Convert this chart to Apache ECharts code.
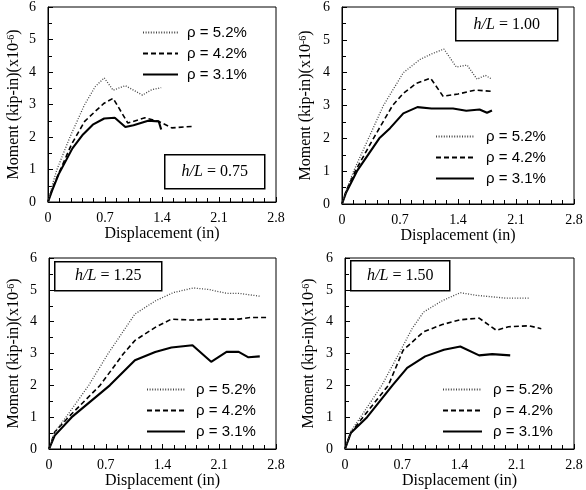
<!DOCTYPE html>
<html><head><meta charset="utf-8">
<script src="https://cdn.jsdelivr.net/npm/echarts@6/dist/echarts.min.js"></script>
<style>html,body{margin:0;padding:0;background:#fff}#c{width:586px;height:490px}</style>
</head><body><div id="c"></div>
<script>
// Series names
const seriesNames = ['ρ = 5.2%', 'ρ = 4.2%', 'ρ = 3.1%'];
const panelLabels = ['0.75', '1.00', '1.25', '1.50'];
const xTickLabels = ['0', '0.7', '1.4', '2.1', '2.8'];
const yTickLabels = ['0', '1', '2', '3', '4', '5', '6'];

// h/L = 0.75
const hl075_rho52 = [[0,0],[0.05,0.5],[0.11,1.0],[0.27,2.0],[0.45,3.0],[0.58,3.55],[0.69,3.82],[0.80,3.44],[0.95,3.58],[1.16,3.29],[1.27,3.45],[1.39,3.52]];
const hl075_rho42 = [[0,0],[0.05,0.4],[0.13,0.87],[0.29,1.78],[0.45,2.48],[0.58,2.79],[0.69,3.04],[0.80,3.19],[0.98,2.43],[1.19,2.59],[1.36,2.48],[1.52,2.28],[1.79,2.33]];
const hl075_rho31 = [[0,0],[0.05,0.35],[0.13,0.85],[0.30,1.65],[0.43,2.08],[0.55,2.38],[0.69,2.57],[0.82,2.59],[0.95,2.31],[1.05,2.36],[1.23,2.50],[1.36,2.48],[1.39,2.23]];
// h/L = 1.00
const hl100_rho52 = [[0,0],[0.05,0.4],[0.14,1.0],[0.32,2.0],[0.50,3.0],[0.74,4.0],[0.94,4.4],[1.08,4.57],[1.23,4.72],[1.38,4.17],[1.51,4.23],[1.63,3.80],[1.73,3.92],[1.81,3.80]];
const hl100_rho42 = [[0,0],[0.05,0.4],[0.16,1.0],[0.38,2.0],[0.61,3.0],[0.74,3.37],[0.90,3.68],[1.07,3.83],[1.22,3.28],[1.40,3.35],[1.61,3.47],[1.81,3.43]];
const hl100_rho31 = [[0,0],[0.05,0.35],[0.18,1.0],[0.45,2.0],[0.58,2.31],[0.74,2.76],[0.91,2.95],[1.08,2.91],[1.34,2.91],[1.50,2.84],[1.66,2.88],[1.75,2.78],[1.81,2.85]];
// h/L = 1.25
const hl125_rho52 = [[0,0],[0.07,0.53],[0.21,1.0],[0.49,2.0],[0.73,3.0],[1.06,4.24],[1.31,4.65],[1.53,4.91],[1.78,5.06],[1.97,5.01],[2.19,4.89],[2.34,4.89],[2.60,4.80]];
const hl125_rho42 = [[0,0],[0.07,0.53],[0.24,1.0],[0.63,2.0],[0.92,3.0],[1.06,3.41],[1.31,3.82],[1.51,4.08],[1.76,4.05],[2.05,4.08],[2.34,4.08],[2.48,4.13],[2.71,4.13]];
const hl125_rho31 = [[0,0],[0.07,0.42],[0.28,1.0],[0.75,2.0],[1.06,2.79],[1.31,3.05],[1.51,3.19],[1.77,3.26],[2.00,2.74],[2.19,3.05],[2.34,3.05],[2.46,2.88],[2.60,2.91]];
// h/L = 1.50
const hl150_rho52 = [[0,0],[0.07,0.55],[0.19,1.0],[0.45,2.0],[0.66,3.0],[0.82,3.78],[0.96,4.30],[1.19,4.66],[1.41,4.91],[1.60,4.83],[1.80,4.78],[1.96,4.74],[2.25,4.74]];
const hl150_rho42 = [[0,0],[0.07,0.5],[0.22,1.0],[0.53,2.0],[0.71,3.1],[0.96,3.68],[1.19,3.91],[1.41,4.06],[1.64,4.11],[1.85,3.73],[2.00,3.84],[2.25,3.87],[2.40,3.78]];
const hl150_rho31 = [[0,0],[0.07,0.5],[0.27,1.0],[0.58,2.0],[0.76,2.55],[0.98,2.91],[1.21,3.12],[1.41,3.22],[1.64,2.94],[1.80,2.98],[2.02,2.94]];

const panelData = [
  [hl075_rho52, hl075_rho42, hl075_rho31],
  [hl100_rho52, hl100_rho42, hl100_rho31],
  [hl125_rho52, hl125_rho42, hl125_rho31],
  [hl150_rho52, hl150_rho42, hl150_rho31]
];

const SERIF = '"Liberation Serif","Times New Roman",serif';
const SANS = '"Liberation Sans",Arial,sans-serif';

const grids = [
  {left: 48, top: 4, width: 228, height: 198},
  {left: 342, top: 3, width: 232, height: 201},
  {left: 49, top: 258, width: 227, height: 194},
  {left: 345, top: 258, width: 229, height: 195}
];
const yNameGaps = [26, 28, 27, 28];
const legendPos = [
  {left: 142, top: 25, w: 35, pad: 4},
  {left: 435, top: 129, w: 38, pad: 7},
  {left: 146, top: 382, w: 38, pad: 6},
  {left: 442, top: 382, w: 39, pad: 6}
];
const boxPos = [
  {x: 164, y: 154, w: 100, h: 34},
  {x: 455, y: 8, w: 102, h: 32},
  {x: 54, y: 261, w: 107, h: 29},
  {x: 350, y: 260, w: 99, h: 30}
];
const lineStyles = [
  {color: '#444', width: 1.3, type: [1, 1.6]},
  {color: '#000', width: 1.6, type: [5, 3]},
  {color: '#000', width: 2.1, type: 'solid'}
];

const option = {
  animation: false,
  backgroundColor: '#fff',
  grid: grids.map(g => Object.assign({show: true, borderColor: '#000', borderWidth: 1, backgroundColor: 'transparent'}, g)),
  xAxis: grids.map((g, i) => ({
    gridIndex: i, type: 'value', min: 0, max: 2.8, interval: 0.7,
    name: 'Displacement (in)', nameLocation: 'middle', nameGap: 24,
    nameTextStyle: {fontFamily: SERIF, fontSize: 16, color: '#000'},
    axisLine: {lineStyle: {color: '#000', width: 1}},
    axisTick: {inside: true, length: 5, lineStyle: {color: '#000'}},
    minorTick: {show: true, splitNumber: 5, length: 4, lineStyle: {color: '#000'}},
    splitLine: {show: false},
    axisLabel: {fontFamily: SERIF, fontSize: 14, color: '#000', margin: 9,
      formatter: v => xTickLabels[Math.round(v / 0.7)]}
  })),
  yAxis: grids.map((g, i) => ({
    gridIndex: i, type: 'value', min: 0, max: 6, interval: 1,
    name: 'Moment (kip-in)(x10{s|-6})', nameLocation: 'middle', nameGap: yNameGaps[i],
    nameTextStyle: {fontFamily: SERIF, fontSize: 16, color: '#000', lineHeight: 16,
      rich: {s: {fontFamily: SERIF, fontSize: 10, color: '#000', verticalAlign: 'top', lineHeight: 16}}},
    axisLine: {lineStyle: {color: '#000', width: 1}},
    axisTick: {inside: true, length: 5, lineStyle: {color: '#000'}},
    minorTick: {show: true, splitNumber: 2, length: 4, lineStyle: {color: '#000'}},
    splitLine: {show: false},
    axisLabel: {fontFamily: SERIF, fontSize: 14, color: '#000', margin: 12,
      formatter: v => yTickLabels[Math.round(v)]}
  })),
  legend: legendPos.map(p => ({
    left: p.left, top: p.top, orient: 'vertical', padding: 0,
    itemWidth: p.w, itemHeight: 14, itemGap: 6, selectedMode: false,
    data: seriesNames,
    itemStyle: {opacity: 0},
    textStyle: {fontFamily: SANS, fontSize: 15, color: '#000', lineHeight: 14, padding: [0, 0, 0, p.pad]}
  })),
  series: [],
  graphic: []
};

panelData.forEach((arrs, i) => {
  arrs.forEach((d, k) => {
    option.series.push({
      type: 'line', name: seriesNames[k], xAxisIndex: i, yAxisIndex: i,
      data: d, symbol: 'none', showSymbol: false, smooth: false,
      lineStyle: lineStyles[k], itemStyle: {color: lineStyles[k].color},
      z: 3 - k
    });
  });
  const b = boxPos[i];
  option.graphic.push({
    type: 'group', left: b.x, top: b.y,
    children: [
      {type: 'rect', shape: {x: 0, y: 0, width: b.w, height: b.h},
       style: {fill: '#fff', stroke: '#000', lineWidth: 1.5}},
      {type: 'text', x: b.w / 2, y: b.h / 2,
       style: {text: '{it|h/L} = ' + panelLabels[i], align: 'center', verticalAlign: 'middle',
         fontFamily: SERIF, fontSize: 16, fill: '#000',
         rich: {it: {fontFamily: SERIF, fontSize: 16, fontStyle: 'italic', fill: '#000'}}}}
    ]
  });
});

const chart = echarts.init(document.getElementById('c'), null, {renderer: 'canvas'});
chart.setOption(option);
</script></body></html>
